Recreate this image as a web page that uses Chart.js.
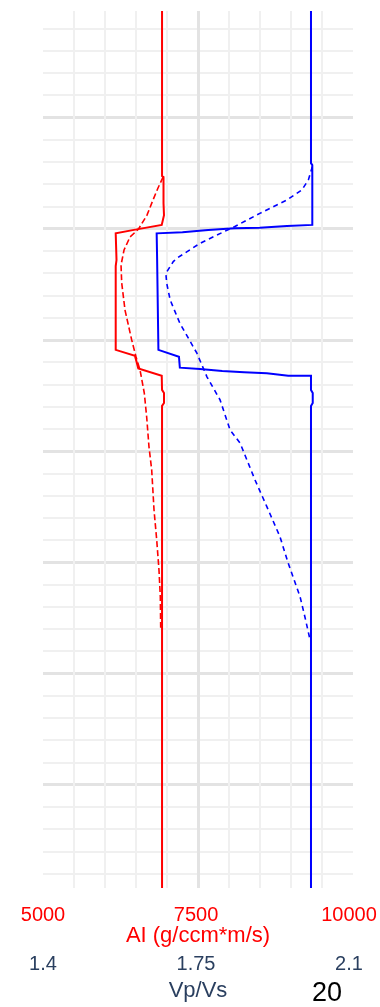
<!DOCTYPE html>
<html>
<head>
<meta charset="utf-8">
<script src="https://cdn.jsdelivr.net/npm/chart.js@4.4.1/dist/chart.umd.min.js"></script>
<style>
  html, body { margin: 0; padding: 0; background: #fff; }
  #wrap { position: relative; width: 380px; height: 1007px; }
  #tag { position: absolute; left: 312px; top: 979px; font-family: "Liberation Sans", Arial, sans-serif; font-size: 27px; line-height: 27px; color: #000; }
</style>
</head>
<body>
<div id="wrap">
  <canvas id="log-chart"></canvas>
  <div id="tag">20</div>
</div>
<script>
// depth runs top -> bottom, one grid row per unit
const aiDepth = [0.2, 7.62, 7.67, 8.84, 9.38, 9.82, 10.02, 10.20, 11.40, 11.67, 15.44, 15.71, 16.27, 16.60, 17.24, 17.38, 17.83, 17.96, 39.64];
const aiValues = [6945, 6945, 6969, 6969, 6977, 6940, 6531, 6188, 6201, 6188, 6188, 6503, 6557, 6940, 6945, 6977, 6977, 6945, 6945];

const aiSynDepth = [7.67, 8.16, 8.70, 9.38, 10.02, 10.36, 10.95, 11.62, 12.43, 13.65, 14.99, 15.76, 16.34, 17.38, 18.46, 19.81, 20.84, 22.64, 23.99, 25.34, 26.55, 27.94];
const aiSynValues = [6961, 6879, 6797, 6699, 6557, 6422, 6324, 6275, 6286, 6340, 6449, 6520, 6585, 6655, 6694, 6732, 6776, 6814, 6858, 6895, 6917, 6923];

const vpvsDepth = [0.2, 7.04, 7.13, 9.82, 9.87, 9.95, 9.97, 10.05, 10.15, 10.20, 11.31, 15.44, 15.75, 16.24, 16.30, 16.39, 16.45, 16.49, 16.60, 16.60, 17.24, 17.38, 17.83, 17.96, 39.64];
const vpvsValues = [2.013, 2.013, 2.016, 2.016, 1.958, 1.896, 1.838, 1.778, 1.719, 1.660, 1.661, 1.664, 1.711, 1.713, 1.759, 1.810, 1.860, 1.912, 1.961, 2.013, 2.013, 2.017, 2.017, 2.013, 2.013];

const vpvsSynDepth = [7.20, 7.80, 8.25, 8.70, 9.30, 9.90, 10.35, 10.65, 11.32, 11.47, 12.00, 12.45, 13.20, 14.24, 15.59, 16.65, 17.69, 19.04, 19.64, 21.29, 22.49, 23.84, 25.04, 26.54, 27.44, 28.49];
const vpvsSynValues = [2.016, 2.007, 1.992, 1.958, 1.896, 1.838, 1.790, 1.759, 1.706, 1.698, 1.681, 1.683, 1.691, 1.713, 1.752, 1.775, 1.805, 1.828, 1.851, 1.885, 1.912, 1.942, 1.961, 1.988, 1.999, 2.011];

const aiTicks = [5000, 7500, 10000];
const vpvsTicks = [1.4, 1.75, 2.1];

const FONT = '"Liberation Sans", Arial, sans-serif';
const minorGrid = '#f0f0f0';
const majorGrid = '#e3e3e3';

function pts(depth, vals) {
    return depth.map((d, i) => ({x: vals[i], y: d}));
}

function gridColor(v, first, last) {
    if (!Number.isInteger(v) || v === first || v === last) return 'rgba(0,0,0,0)';
    return v % 5 === 0 ? majorGrid : minorGrid;
}

const ctx = document.getElementById('log-chart').getContext('2d');
const myChart = new Chart(ctx, {
    type: 'scatter',
    data: {
        datasets: [
            {data: pts(aiDepth, aiValues), xAxisID: 'x', borderColor: 'red', borderWidth: 2},
            {data: pts(aiSynDepth, aiSynValues), xAxisID: 'x', borderColor: 'red', borderWidth: 1.6, borderDash: [6, 3]},
            {data: pts(vpvsDepth, vpvsValues), xAxisID: 'x2', borderColor: 'blue', borderWidth: 2},
            {data: pts(vpvsSynDepth, vpvsSynValues), xAxisID: 'x2', borderColor: 'blue', borderWidth: 1.6, borderDash: [5, 4]}
        ].map(ds => Object.assign(ds, {showLine: true, pointRadius: 0, tension: 0, yAxisID: 'y'}))
    },
    options: {
        responsive: true,
        maintainAspectRatio: false,
        animation: false,
        layout: {padding: {left: 43, right: 27, top: 11, bottom: 3.3}},
        plugins: {legend: {display: false}, tooltip: {enabled: false}},
        scales: {
            y: {
                type: 'linear', reverse: true, min: 0.2, max: 39.64, position: 'left',
                ticks: {display: false, stepSize: 1},
                border: {display: false},
                grid: {
                    drawTicks: false,
                    color: c => gridColor(c.tick.value, 0, 40),
                    lineWidth: c => c.tick.value % 5 === 0 ? 3 : 2
                }
            },
            xg: {
                type: 'linear', position: 'top', min: 0, max: 10,
                ticks: {display: false, stepSize: 1},
                border: {display: false},
                grid: {
                    drawTicks: false,
                    color: c => gridColor(c.tick.value, 0, 10),
                    lineWidth: c => c.tick.value === 5 ? 3 : 2
                }
            },
            x: {
                type: 'linear', position: 'bottom', weight: 1, min: 5000, max: 10065,
                afterBuildTicks: s => { s.ticks = aiTicks.map(v => ({value: v})); },
                ticks: {color: 'red', padding: 0, maxRotation: 0, autoSkip: false,
                        font: {family: FONT, size: 20, lineHeight: 2.7}, callback: v => String(v)},
                grid: {display: false, drawTicks: false},
                border: {display: false},
                title: {display: true, text: 'AI (g/ccm*m/s)', color: 'red',
                        font: {family: FONT, size: 22}, padding: {top: -19.2, bottom: 0}}
            },
            x2: {
                type: 'linear', position: 'bottom', weight: 2, min: 1.4, max: 2.1091,
                afterBuildTicks: s => { s.ticks = vpvsTicks.map(v => ({value: v})); },
                ticks: {color: '#2a3f5f', padding: 0, maxRotation: 0, autoSkip: false,
                        font: {family: FONT, size: 20, lineHeight: 1.53}, callback: v => String(v)},
                grid: {display: false, drawTicks: false},
                border: {display: false},
                title: {display: true, text: 'Vp/Vs', color: '#2a3f5f',
                        font: {family: FONT, size: 22}, padding: {top: -2.5, bottom: 0}}
            }
        }
    }
});
</script>
</body>
</html>
